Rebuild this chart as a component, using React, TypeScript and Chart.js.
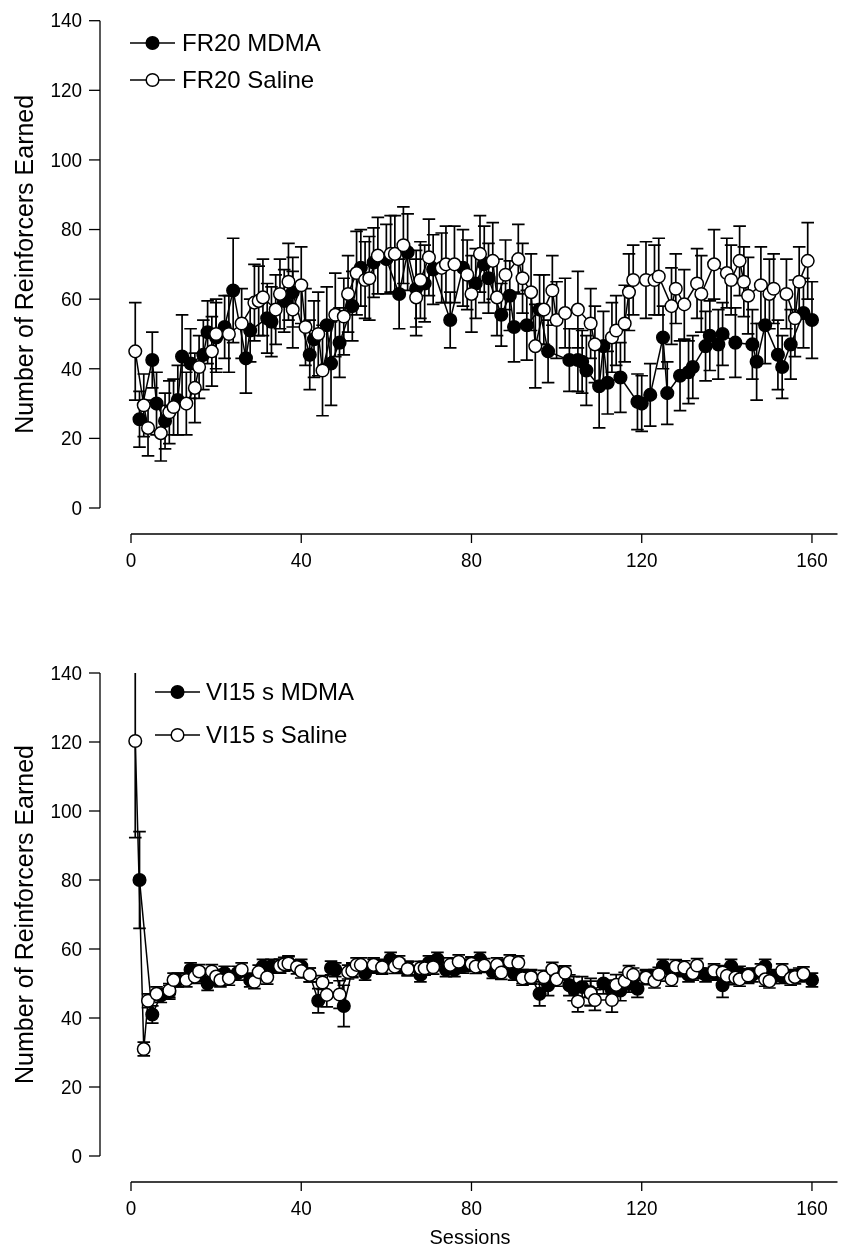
import React, { useEffect, useRef } from "react";
import { Chart, registerables } from "chart.js";

Chart.register(...registerables);

// ---------- tick labels ----------
const xTicks = [0, 40, 80, 120, 160];
const yTicks = [0, 20, 40, 60, 80, 100, 120, 140];

// ---------- top panel: FR20 ----------
const fr20MdmaSessions = [2,5,6,8,11,12,14,17,18,20,22,24,27,28,32,33,36,38,42,43,46,47,49,52,54,57,60,63,65,67,69,71,75,78,81,83,84,87,89,90,93,96,98,103,105,106,107,110,111,112,115,119,120,122,125,126,129,131,132,135,136,138,139,142,146,147,149,152,153,155,158,160];
const fr20MdmaValues = [25.5,42.5,30,25,31,43.5,41.5,44,50.5,49,52,62.5,43,51,54.5,53.5,59.5,62,44,48.5,52.5,41.5,47.5,58,69,70.5,71.5,61.5,73.5,63,64.5,68.5,54,69,64.5,70,66,55.5,61,52,52.5,57,45,42.5,42.5,42,39.5,35,46.5,36,37.5,30.5,30,32.5,49,33,38,39,40.5,46.5,49.5,47,50,47.5,47,42,52.5,44,40.5,47,56,54];
const fr20MdmaErrors = [8,8,9,8,10,12,10,10,9,10,9,15,10,9,10,10,9,10,10,11,11,12,10,10,11,10,10,10,11,11,11,10,8,11,10,11,10,9,10,10,10,10,9,9,9,9,10,12,10,9,10,8,8,9,9,9,10,9,9,10,10,10,9,10,10,11,11,10,9,10,10,11];

const fr20SalineSessions = [1,3,4,7,9,10,13,15,16,19,20,23,26,29,30,31,34,35,37,38,40,41,44,45,48,50,51,53,55,56,58,61,62,64,67,68,70,73,74,76,79,80,82,85,86,88,91,92,94,95,97,99,100,102,105,108,109,113,114,116,117,118,121,123,124,127,128,130,133,134,137,140,141,143,144,145,148,150,151,154,156,157,159];
const fr20SalineValues = [45,29.5,23,21.5,27.5,29,30,34.5,40.5,45,50,50,53,59,59.5,60.5,57,61.5,65,57,64,52,50,39.5,55.5,55,61.5,67.5,65.5,66,72.5,73,73,75.5,60.5,65.5,72,69,70,70,67,61.5,73,71,60.5,67,71.5,66,62,46.5,57,62.5,54,56,57,53,47,49,51,53,62,65.5,65.5,65.5,66.5,58,63,58.5,64.5,61.5,70,67.5,65.5,71,65,61,64,61.5,63,61.5,54.5,65,71];
const fr20SalineErrors = [14,9,8,8,9,8,9,10,9,10,10,11,10,11,10,11,10,10,11,11,11,11,12,13,12,11,11,12,11,12,11,11,11,11,11,11,11,10,11,11,10,11,11,11,11,10,10,10,11,12,10,10,11,10,11,10,11,10,10,11,11,10,11,10,11,11,10,10,10,11,10,10,10,10,10,11,11,10,10,10,11,10,11];

// ---------- bottom panel: VI15 s ----------
const vi15MdmaSessions = [2,5,7,9,11,14,16,18,20,22,25,28,31,33,35,37,40,42,44,47,48,50,52,55,57,59,61,63,65,68,70,72,74,76,78,80,82,85,87,89,90,92,94,96,98,100,103,104,106,108,111,113,115,117,119,121,123,125,127,129,131,133,135,137,139,141,143,145,146,149,151,153,155,157,160];
const vi15MdmaValues = [80,41,46.5,47.5,51,54,52.5,50,51.5,53,53,51,55,55,55,56,55,52.5,45,54.5,54,43.5,54,53,55,55,57,55,54.5,52.5,56,57,54,54,55,55.5,57,53.5,55,55,53,52,52,47,49.5,53,49.5,48.5,49,47.5,50,48,48,50,48.5,52,52,55,53.5,54,52.5,53.5,52.5,53,49.5,55,53,52,52.5,55,52,52,52,52.5,51];
const vi15MdmaErrors = [14,2.5,2,2,2,2,2,2,2,2,2,2,2,2,2,2,2,2,3.5,2,2,6,2,2,2,2,2,2,2,2,2,2,2,2,2,2,2,2,2,2,2,2,2,3.5,3,2,3,3.5,3,4,3,3,3,2.5,2.5,2,2,2,2,2,2,2,2,2,3.5,2,2,2,2,2,2,2,2,2,2];

const vi15SalineSessions = [1,3,4,6,9,10,13,15,16,19,20,21,23,26,29,30,32,35,36,37,39,40,42,45,46,49,51,52,53,54,57,59,62,63,65,68,69,71,75,77,80,81,83,86,87,89,91,92,94,97,99,100,102,105,108,109,113,114,116,117,118,121,123,124,127,128,130,132,133,137,139,140,142,143,145,148,149,150,153,155,156,158];
const vi15SalineValues = [120.3,31,45,47,48,51,51,52,53.5,53.5,52,51,51.5,54,50.5,53.3,51.8,55,55.6,55.8,54.8,53.6,52.5,50.3,46.7,46.8,53.3,53.7,55.4,55.4,55.4,54.7,54.9,56,54.2,54.4,54.4,54.7,55.4,56.3,55.7,54.9,55.2,55.4,53.2,56.3,56,51.5,51.8,51.8,54.1,51.2,53.1,44.8,47.2,45.2,45.2,49.6,50.7,53.2,52.5,51.7,50.7,52.7,51.2,54.9,54.6,53,55.2,53.7,53.2,52.2,51.7,51.2,52.3,53.7,51.2,50.7,53.7,51.5,51.9,52.8];
const vi15SalineErrors = [28,2,2,2,2,2,2,2,2,2,2,2,2,2,2,2,2,2,2,2,2,2,2,2,3.5,4,2,2,2,2,2,2,2,2,2,2,2,2,2,2,2,2,2,2,2,2,2,2,2,2,2,2,2,3,3.5,3,3.5,3,2.5,2,2,2,2,2,2,2,2,2,2,2,2,2,2,2,2,2,2,2,2,2,2,2];

const FONT = "'Liberation Sans', Arial, Helvetica, sans-serif";

type PanelSpec = {
  mdmaLabel: string;
  salineLabel: string;
  mdma: { s: number[]; v: number[]; e: number[] };
  saline: { s: number[]; v: number[]; e: number[] };
  height: number;
  top: number;
  padding: { left: number; right: number; top: number; bottom: number };
  yAxisX: number;
  xAxisGap: number;
  legend: { lineX0: number; lineX1: number; textX: number; y0: number; y1: number };
  xTitle?: string;
  xTitleY?: number;
};

const errorBarPlugin = {
  id: "errorBars",
  beforeDatasetDraw(chart: any, args: any) {
    const ds: any = chart.data.datasets[args.index];
    const errs: number[] = ds.errors || [];
    const xs = chart.scales.x;
    const ys = chart.scales.y;
    const ca = chart.chartArea;
    const ctx = chart.ctx;
    ctx.save();
    ctx.beginPath();
    ctx.rect(0, ca.top, chart.width, ca.bottom - ca.top + 40);
    ctx.clip();
    ctx.strokeStyle = "#000";
    ctx.lineWidth = 1.7;
    const half = 6.3;
    ds.data.forEach((p: any, i: number) => {
      const e = errs[i];
      if (!e) return;
      const px = xs.getPixelForValue(p.x);
      const yHi = ys.getPixelForValue(p.y + e);
      const yLo = ys.getPixelForValue(p.y - e);
      ctx.beginPath();
      ctx.moveTo(px, yHi);
      ctx.lineTo(px, yLo);
      ctx.moveTo(px - half, yHi);
      ctx.lineTo(px + half, yHi);
      ctx.moveTo(px - half, yLo);
      ctx.lineTo(px + half, yLo);
      ctx.stroke();
    });
    ctx.restore();
  },
};

function narrowText(ctx: CanvasRenderingContext2D, text: string, x: number, y: number, align: "left" | "right" | "center", sx: number) {
  ctx.save();
  ctx.translate(x, y);
  ctx.scale(sx, 1);
  ctx.textAlign = align;
  ctx.fillText(text, 0, 0);
  ctx.restore();
}

function makeAxesPlugin(spec: PanelSpec) {
  return {
    id: "prismAxes",
    afterDraw(chart: any) {
      const ctx = chart.ctx;
      const xs = chart.scales.x;
      const ys = chart.scales.y;
      const ca = chart.chartArea;
      ctx.save();
      ctx.strokeStyle = "#000";
      ctx.fillStyle = "#000";
      ctx.lineWidth = 1.3;

      // Y axis
      const ax = spec.yAxisX;
      const y0 = ys.getPixelForValue(yTicks[0]);
      const y1 = ys.getPixelForValue(yTicks[yTicks.length - 1]);
      ctx.beginPath();
      ctx.moveTo(ax, y0);
      ctx.lineTo(ax, y1);
      ctx.stroke();
      ctx.font = `21px ${FONT}`;
      ctx.textBaseline = "middle";
      yTicks.forEach((t) => {
        const py = ys.getPixelForValue(t);
        ctx.beginPath();
        ctx.moveTo(ax - 11, py);
        ctx.lineTo(ax, py);
        ctx.stroke();
        narrowText(ctx, String(t), ax - 18, py + 1, "right", 0.9);
      });

      // X axis
      const ay = ca.bottom + spec.xAxisGap;
      const xStart = xs.getPixelForValue(xTicks[0]);
      ctx.beginPath();
      ctx.moveTo(xStart, ay);
      ctx.lineTo(ca.right, ay);
      ctx.stroke();
      ctx.textBaseline = "middle";
      xTicks.forEach((t) => {
        const px = xs.getPixelForValue(t);
        ctx.beginPath();
        ctx.moveTo(px, ay);
        ctx.lineTo(px, ay + 9);
        ctx.stroke();
        narrowText(ctx, String(t), px, ay + 27, "center", 0.9);
      });

      // Y title
      ctx.save();
      ctx.translate(33, (y0 + y1) / 2);
      ctx.rotate(-Math.PI / 2);
      ctx.textAlign = "center";
      ctx.textBaseline = "alphabetic";
      ctx.font = `25px ${FONT}`;
      ctx.fillText("Number of Reinforcers Earned", 0, 0);
      ctx.restore();

      // X title
      if (spec.xTitle) {
        ctx.font = `21px ${FONT}`;
        ctx.textBaseline = "middle";
        narrowText(ctx, spec.xTitle, 470, spec.xTitleY || 0, "center", 0.95);
      }

      // Legend
      const L = spec.legend;
      const items = [
        { y: L.y0, fill: "#000", label: spec.mdmaLabel },
        { y: L.y1, fill: "#fff", label: spec.salineLabel },
      ];
      items.forEach((it) => {
        ctx.lineWidth = 1.5;
        ctx.strokeStyle = "#000";
        ctx.beginPath();
        ctx.moveTo(L.lineX0, it.y);
        ctx.lineTo(L.lineX1, it.y);
        ctx.stroke();
        ctx.beginPath();
        ctx.arc((L.lineX0 + L.lineX1) / 2, it.y, 6.3, 0, Math.PI * 2);
        ctx.fillStyle = it.fill;
        ctx.fill();
        ctx.stroke();
        ctx.fillStyle = "#000";
        ctx.font = `24px ${FONT}`;
        ctx.textAlign = "left";
        ctx.textBaseline = "middle";
        ctx.fillText(it.label, L.textX, it.y + 1);
      });
      ctx.restore();
    },
  };
}

function buildConfig(spec: PanelSpec): any {
  const toPts = (s: number[], v: number[]) => s.map((x, i) => ({ x, y: v[i] }));
  return {
    type: "line",
    data: {
      datasets: [
        {
          label: spec.mdmaLabel,
          data: toPts(spec.mdma.s, spec.mdma.v),
          errors: spec.mdma.e,
          borderColor: "#000",
          borderWidth: 1.5,
          pointRadius: 6.3,
          pointBorderWidth: 1.5,
          pointBackgroundColor: "#000",
          pointBorderColor: "#000",
          tension: 0,
          order: 1,
          clip: false,
        },
        {
          label: spec.salineLabel,
          data: toPts(spec.saline.s, spec.saline.v),
          errors: spec.saline.e,
          borderColor: "#000",
          borderWidth: 1.5,
          pointRadius: 6.3,
          pointBorderWidth: 1.5,
          pointBackgroundColor: "#fff",
          pointBorderColor: "#000",
          tension: 0,
          order: 0,
          clip: false,
        },
      ],
    },
    options: {
      animation: false,
      responsive: false,
      maintainAspectRatio: false,
      devicePixelRatio: 1,
      layout: { padding: spec.padding },
      plugins: { legend: { display: false }, tooltip: { enabled: false }, title: { display: false } },
      events: [],
      scales: {
        x: { type: "linear", min: 0, max: 166, display: false },
        y: { type: "linear", min: 0, max: 140, display: false },
      },
    },
    plugins: [errorBarPlugin, makeAxesPlugin(spec)],
  };
}

const topSpec: PanelSpec = {
  mdmaLabel: "FR20 MDMA",
  salineLabel: "FR20 Saline",
  mdma: { s: fr20MdmaSessions, v: fr20MdmaValues, e: fr20MdmaErrors },
  saline: { s: fr20SalineSessions, v: fr20SalineValues, e: fr20SalineErrors },
  height: 600,
  top: 0,
  padding: { left: 131, right: 27.5, top: 20.7, bottom: 92 },
  yAxisX: 100,
  xAxisGap: 26,
  legend: { lineX0: 130, lineX1: 175, textX: 182, y0: 43, y1: 80 },
};

const bottomSpec: PanelSpec = {
  mdmaLabel: "VI15 s MDMA",
  salineLabel: "VI15 s Saline",
  mdma: { s: vi15MdmaSessions, v: vi15MdmaValues, e: vi15MdmaErrors },
  saline: { s: vi15SalineSessions, v: vi15SalineValues, e: vi15SalineErrors },
  height: 638,
  top: 620,
  padding: { left: 131, right: 27.5, top: 53, bottom: 102 },
  yAxisX: 100,
  xAxisGap: 26,
  legend: { lineX0: 155, lineX1: 200, textX: 206, y0: 72, y1: 115 },
  xTitle: "Sessions",
  xTitleY: 618,
};

function Panel({ spec }: { spec: PanelSpec }) {
  const ref = useRef<HTMLCanvasElement | null>(null);
  useEffect(() => {
    if (!ref.current) return;
    const chart = new Chart(ref.current, buildConfig(spec));
    return () => chart.destroy();
  }, [spec]);
  return (
    <canvas
      ref={ref}
      width={865}
      height={spec.height}
      style={{ position: "absolute", left: 0, top: spec.top, width: 865, height: spec.height }}
    />
  );
}

export default function App() {
  return (
    <div style={{ position: "absolute", left: 0, top: 0, width: 865, height: 1258, background: "#fff" }}>
      <Panel spec={topSpec} />
      <Panel spec={bottomSpec} />
    </div>
  );
}
